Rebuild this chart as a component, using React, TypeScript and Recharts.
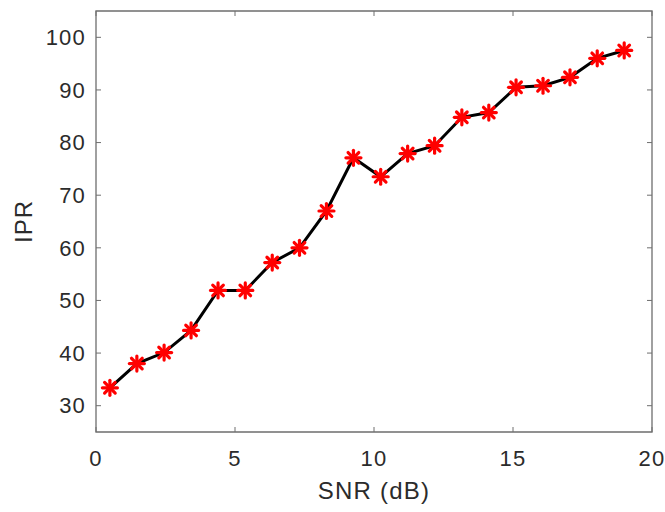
import React from 'react';
import { LineChart, Line, XAxis, YAxis, Label, ReferenceArea } from 'recharts';

// SNR values (dB) and matching IPR
const snr = [0.5, 1.47, 2.45, 3.42, 4.39, 5.37, 6.34, 7.32, 8.29, 9.26, 10.24, 11.21, 12.18, 13.16, 14.13, 15.11, 16.08, 17.05, 18.03, 19];
const ipr = [33.4, 38.0, 40.1, 44.3, 51.9, 51.9, 57.2, 60.0, 67.0, 77.1, 73.5, 77.9, 79.4, 84.8, 85.7, 90.5, 90.8, 92.4, 96.0, 97.5];
const xTicks = [0, 5, 10, 15, 20];
const yTicks = [30, 40, 50, 60, 70, 80, 90, 100];

const data = snr.map((x, i) => ({ snr: x, ipr: ipr[i] }));

const font = '"Liberation Sans", Arial, sans-serif';
const axisColor = '#6e6e6e';
const textColor = '#2b2b2b';

// plot box edges in px (match margins / axis sizes below)
const box = { left: 96, right: 652, top: 11, bottom: 432 };
const tickLen = 5;

const XTick = (props: any) => {
  const { x, y, payload } = props;
  return (
    <g>
      <line x1={x} y1={box.bottom} x2={x} y2={box.bottom - tickLen} stroke={axisColor} />
      <line x1={x} y1={box.top} x2={x} y2={box.top + tickLen} stroke={axisColor} />
      <text x={x} y={y} dy="0.71em" textAnchor="middle" fill={textColor} fontSize={22} fontFamily={font} letterSpacing={1.2}>
        {payload.value}
      </text>
    </g>
  );
};

const YTick = (props: any) => {
  const { x, y, payload } = props;
  return (
    <g>
      <line x1={box.left} y1={y} x2={box.left + tickLen} y2={y} stroke={axisColor} />
      <line x1={box.right} y1={y} x2={box.right - tickLen} y2={y} stroke={axisColor} />
      <text x={x} y={y} dy="0.355em" textAnchor="end" fill={textColor} fontSize={22} fontFamily={font} letterSpacing={1.2}>
        {payload.value}
      </text>
    </g>
  );
};

const Asterisk = (props: any) => {
  const { cx, cy, index } = props;
  if (cx == null || cy == null) return null;
  const r = 7.5;
  const d = r * 0.7071;
  return (
    <g key={`m-${index}`} stroke="#ff0000" strokeWidth={3.2} strokeLinecap="round">
      <line x1={cx - r} y1={cy} x2={cx + r} y2={cy} />
      <line x1={cx} y1={cy - r} x2={cx} y2={cy + r} />
      <line x1={cx - d} y1={cy - d} x2={cx + d} y2={cy + d} />
      <line x1={cx - d} y1={cy + d} x2={cx + d} y2={cy - d} />
    </g>
  );
};

export default function App() {
  return (
    <div style={{ position: 'absolute', left: 0, top: 0, background: '#fff' }}>
      <LineChart width={665} height={512} data={data} margin={{ top: 11, right: 13, bottom: 0, left: 0 }}>
        <XAxis
          dataKey="snr"
          type="number"
          domain={[0, 20]}
          ticks={xTicks}
          height={80}
          tickSize={0}
          tickMargin={18}
          tickLine={false}
          axisLine={false}
          tick={<XTick />}
          interval={0}
        >
          <Label value="SNR (dB)" position="insideBottom" offset={13} style={{ fill: textColor, fontSize: 24, fontFamily: font, letterSpacing: 1.2 }} />
        </XAxis>
        <YAxis
          type="number"
          domain={[25, 105]}
          ticks={yTicks}
          width={96}
          tickSize={0}
          tickMargin={10}
          tickLine={false}
          axisLine={false}
          tick={<YTick />}
          interval={0}
        >
          <Label value="IPR" angle={-90} position="insideLeft" offset={23} style={{ fill: textColor, fontSize: 24, fontFamily: font, textAnchor: 'middle', letterSpacing: 1 }} />
        </YAxis>
        <ReferenceArea x1={0} x2={20} y1={25} y2={105} fill="none" stroke={axisColor} strokeWidth={1.3} ifOverflow="visible" />
        <Line
          dataKey="ipr"
          stroke="#000"
          strokeWidth={3}
          dot={<Asterisk />}
          activeDot={false}
          isAnimationActive={false}
        />
      </LineChart>
    </div>
  );
}
